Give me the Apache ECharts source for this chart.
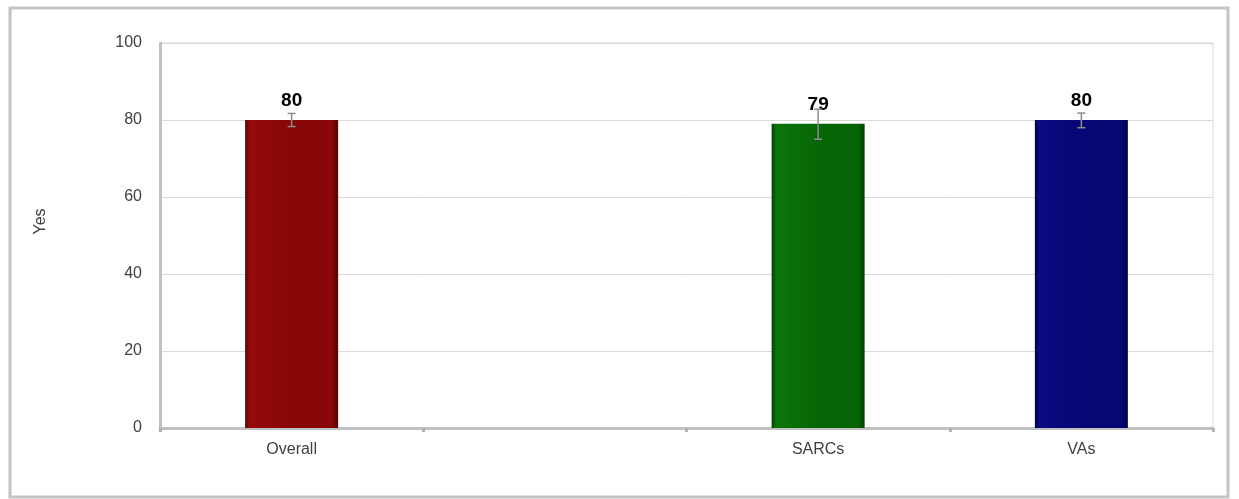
<!DOCTYPE html>
<html>
<head>
<meta charset="utf-8">
<script src="https://cdn.jsdelivr.net/npm/echarts@6/dist/echarts.min.js"></script>
<style>
html,body{margin:0;padding:0;background:#fff;}
#c{width:1239px;height:499px;}
</style>
</head>
<body>
<div id="c"></div>
<script>
const categories = ['Overall', '', 'SARCs', 'VAs'];
const values = [80, null, 79, 80];
const errLow = [78.3, null, 75.0, 78.0];
const errHigh = [81.7, null, 82.8, 81.8];
const yTicks = [0, 20, 40, 60, 80, 100];

const barColors = [
  ['#960a0a', '#880707', '#560303'],
  ['#888', '#888', '#888'],
  ['#0b760b', '#066606', '#034003'],
  ['#0b0b84', '#060674', '#03034a']
];

function grad(c) {
  return new echarts.graphic.LinearGradient(0, 0, 1, 0, [
    {offset: 0, color: c[2]},
    {offset: 0.05, color: c[0]},
    {offset: 0.5, color: c[1]},
    {offset: 0.93, color: c[1]},
    {offset: 1, color: c[2]}
  ]);
}

const chart = echarts.init(document.getElementById('c'));
chart.setOption({
  animation: false,
  backgroundColor: '#fff',
  graphic: [{
    type: 'rect', shape: {x: 10, y: 8, width: 1218, height: 489},
    style: {fill: 'none', stroke: '#c4c4c4', lineWidth: 3}, silent: true
  }],
  grid: {left: 160, right: 26, top: 43, bottom: 71, show: true, borderColor: '#d9d9d9', borderWidth: 1, backgroundColor: 'transparent'},
  xAxis: {
    type: 'category',
    data: categories,
    axisLine: {lineStyle: {color: '#c0c0c0', width: 3}},
    axisTick: {show: true, length: 4, lineStyle: {color: '#b4b4b4', width: 3}},
    axisLabel: {color: '#404040', fontSize: 16, fontFamily: 'Liberation Sans, Arial', margin: 14}
  },
  yAxis: {
    type: 'value', min: yTicks[0], max: yTicks[yTicks.length - 1], interval: 20,
    name: 'Yes', nameLocation: 'middle', nameGap: 111, nameRotate: 90,
    nameTextStyle: {color: '#404040', fontSize: 16, fontFamily: 'Liberation Sans, Arial', padding: [0, 0, 0, 28]},
    axisLine: {show: true, lineStyle: {color: '#c0c0c0', width: 3}},
    axisTick: {show: false},
    axisLabel: {color: '#404040', fontSize: 16, fontFamily: 'Liberation Sans, Arial', margin: 18},
    splitLine: {lineStyle: {color: '#d9d9d9', width: 1}}
  },
  series: [
    {
      type: 'bar',
      barWidth: 93,
      data: values.map((v, i) => ({value: v, itemStyle: {color: grad(barColors[i])}})),
      label: {
        show: true, position: 'top', distance: 10,
        color: '#000', fontSize: 19, fontWeight: 'bold', fontFamily: 'Liberation Sans, Arial',
        formatter: p => p.value == null ? '' : String(p.value)
      },
      z: 2
    },
    {
      type: 'custom',
      data: categories.map((c, i) => [i, errLow[i], errHigh[i]]).filter(d => d[1] != null),
      renderItem: function (params, api) {
        const lo = api.coord([api.value(0), api.value(1)]);
        const hi = api.coord([api.value(0), api.value(2)]);
        const w = 4;
        const st = {stroke: '#8c8c8c', lineWidth: 1.5};
        return {type: 'group', children: [
          {type: 'line', shape: {x1: hi[0], y1: hi[1], x2: lo[0], y2: lo[1]}, style: st},
          {type: 'line', shape: {x1: hi[0] - w, y1: hi[1], x2: hi[0] + w, y2: hi[1]}, style: st},
          {type: 'line', shape: {x1: lo[0] - w, y1: lo[1], x2: lo[0] + w, y2: lo[1]}, style: st}
        ]};
      },
      z: 5
    }
  ]
});
</script>
</body>
</html>
